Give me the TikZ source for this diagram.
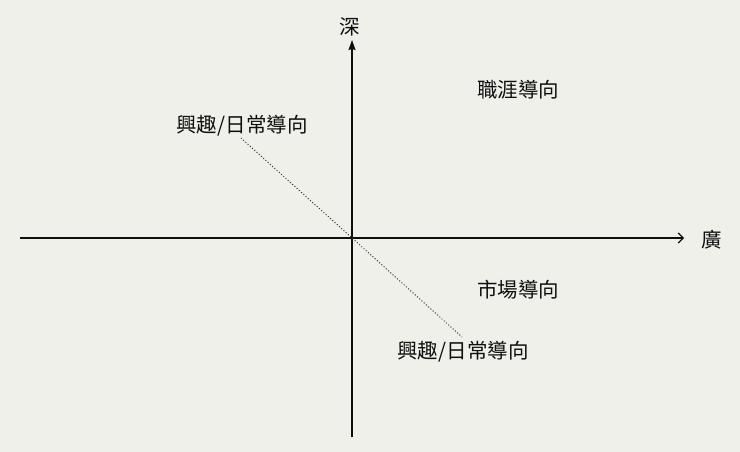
\documentclass[tikz,border=0pt]{standalone}
\usepackage{fontspec}
\setmainfont{Noto Sans CJK TC}
\usetikzlibrary{arrows.meta}
\definecolor{bg}{RGB}{240,240,235}
\definecolor{ink}{RGB}{15,15,15}
\tikzset{
  lbl/.style={font=\fontsize{20.5}{22}\selectfont, text=ink, inner sep=0pt},
  axisline/.style={draw=ink, line width=1.3pt},
  diag/.style={draw=ink!85, line width=1pt, dotted}
}
\begin{document}
\begin{tikzpicture}[x=1pt,y=-1pt]
\fill[bg] (0,0) rectangle (740,452);
\useasboundingbox (0,0) rectangle (740,452);
\coordinate (L) at (20,238);
\coordinate (R) at (684,238);
\coordinate (B) at (352,437);
\coordinate (T) at (352,40);
\coordinate (D1) at (241,138);
\coordinate (D2) at (462,337);
\draw[axisline, -{Straight Barb[length=5pt,width=10pt,line width=1.2pt]}] (L) -- (R);
\draw[axisline, -{Stealth[length=10pt,width=7pt,inset=1pt]}] (B) -- (T);
\draw[diag] (D1) -- (D2);
\node[lbl] (deep) at (350,27) {深};
\node[lbl] (wide) at (712,240) {廣};
\node[lbl] (career) at (518,90) {職涯導向};
\node[lbl] (market) at (518,290) {市場導向};
\node[lbl] (hobby1) at (242,126) {興趣/日常導向};
\node[lbl] (hobby2) at (463,352) {興趣/日常導向};
\end{tikzpicture}
\end{document}
